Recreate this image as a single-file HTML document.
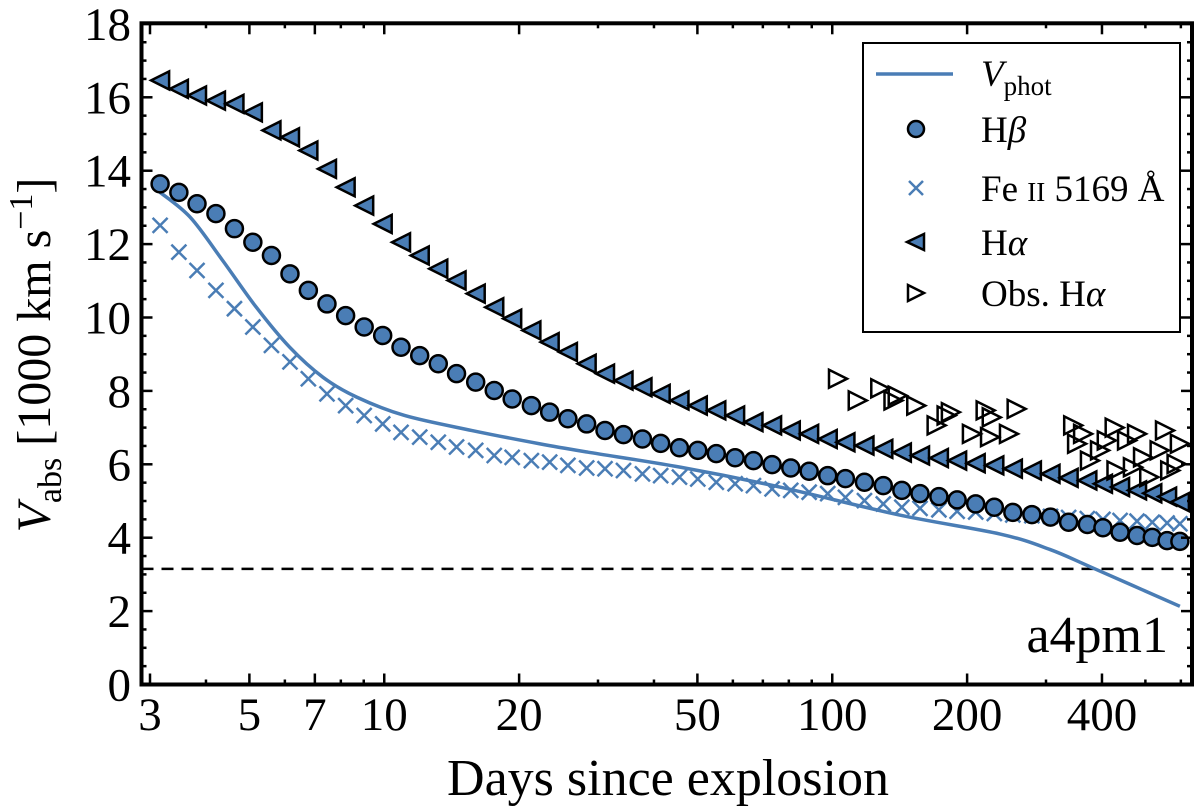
<!DOCTYPE html>
<html><head><meta charset="utf-8">
<style>
html,body{margin:0;padding:0;background:#fff;}
svg{display:block;font-family:"Liberation Serif",serif;}
</style></head>
<body>
<svg id="chart" width="1200" height="806" viewBox="0 0 1200 806" xmlns="http://www.w3.org/2000/svg">
<g id="plot"></g>
</svg>
<script>
const days = [3.16,3.48,3.82,4.21,4.63,5.09,5.60,6.16,6.77,7.45,8.20,9.02,9.92,10.9,12.0,13.2,14.5,16.0,17.6,19.3,21.3,23.4,25.7,28.3,31.1,34.2,37.7,41.4,45.6,50.1,55.1,60.7,66.7,73.4,80.8,88.8,97.7,107,118,130,143,157,173,190,209,230,253,279,307,337,371,402,439,479,518,559,597];
const hAlpha = [16.46,16.23,16.05,15.91,15.82,15.59,15.10,14.91,14.55,14.05,13.55,13.05,12.55,12.05,11.69,11.33,11.01,10.65,10.28,9.97,9.65,9.33,9.06,8.74,8.47,8.28,8.10,7.92,7.74,7.60,7.47,7.33,7.15,7.06,6.92,6.83,6.69,6.60,6.51,6.42,6.32,6.24,6.17,6.10,6.03,5.97,5.88,5.83,5.74,5.63,5.56,5.47,5.38,5.29,5.21,5.12,4.97];
const hBeta = [13.64,13.41,13.10,12.83,12.42,12.05,11.69,11.19,10.74,10.37,10.05,9.74,9.51,9.19,8.96,8.74,8.47,8.24,8.01,7.78,7.60,7.42,7.24,7.10,6.92,6.81,6.69,6.57,6.45,6.38,6.29,6.18,6.10,5.99,5.90,5.81,5.69,5.61,5.51,5.42,5.29,5.20,5.12,5.03,4.92,4.83,4.69,4.63,4.56,4.42,4.36,4.27,4.15,4.06,4.01,3.92,3.90];
const feII = [12.51,11.78,11.28,10.74,10.24,9.74,9.24,8.79,8.33,7.92,7.60,7.33,7.10,6.87,6.74,6.60,6.47,6.38,6.24,6.19,6.10,6.06,5.97,5.90,5.88,5.83,5.74,5.69,5.65,5.60,5.51,5.47,5.42,5.33,5.29,5.24,5.20,5.10,5.01,4.92,4.83,4.80,4.76,4.72,4.70,4.66,4.62,4.60,4.58,4.55,4.52,4.50,4.47,4.45,4.42,4.40,4.38];
const photDays = [3.16,3.69,4.36,5.18,6.15,7.30,8.68,11.1,15.7,22.2,28.5,45.9,76.4,141,237,306,381,597];
const photVel = [13.41,12.73,11.55,10.28,9.19,8.37,7.83,7.33,6.92,6.56,6.33,5.92,5.38,4.62,4.10,3.68,3.18,2.13];
const obsDays = [103,114,128,137,140,154,171,184,180,220,227,205,225,248,258,345,363,427,553,352,396,455,494,538,587,376,469,510,431,568,410,479,597];
const obsVel = [8.33,7.74,8.07,7.74,7.87,7.60,7.06,7.42,7.33,7.47,7.28,6.83,6.74,6.83,7.51,7.06,6.83,7.00,6.92,6.56,6.38,6.65,6.19,6.38,6.01,6.10,5.92,5.65,5.83,5.83,6.65,6.83,6.56];
const dashVel = 3.15;
const xTicks = [3,5,7,10,20,50,100,200,400];
const xMinor = [4,6,8,9,30,40,60,70,80,90,300,500,600];
const yTicks = [0,2,4,6,8,10,12,14,16,18];

const L=141.5,R=1192,T=23.3,B=684.5;
const xS = d => 150 + 448*Math.log10(d/3);
const yS = v => 684.5 - 36.7*v;
const NS="http://www.w3.org/2000/svg";
const svg=document.getElementById('chart');
const plot=document.getElementById('plot');
function el(tag,attrs,parent){const e=document.createElementNS(NS,tag);for(const k in attrs)e.setAttribute(k,attrs[k]);(parent||plot).appendChild(e);return e;}
const BLUE="#4a7db5";

const defs=el('defs',{},svg);
const cp=el('clipPath',{id:'clip'},defs);
el('rect',{x:L,y:T,width:R-L,height:B-T},cp);
const g=el('g',{'clip-path':'url(#clip)'});



const dl=el('line',{x1:L,x2:R,y1:yS(dashVel),y2:yS(dashVel),stroke:'#000','stroke-width':2.5,'stroke-dasharray':'12,8'},g);



const gFe=el('g',{},g);


days.forEach((d,i)=>{const x=xS(d),y=yS(feII[i]),s=7.5;
 const p=el('path',{d:`M${x-s},${y-s}L${x+s},${y+s}M${x-s},${y+s}L${x+s},${y-s}`,stroke:BLUE,'stroke-width':2.5,fill:'none'},gFe);
 
 });

const pts=photDays.map((d,i)=>[xS(d),yS(photVel[i])]);
let dstr=`M${pts[0][0]},${pts[0][1]}`;
for(let i=0;i<pts.length-1;i++){const p0=pts[Math.max(0,i-1)],p1=pts[i],p2=pts[i+1],p3=pts[Math.min(pts.length-1,i+2)];
 dstr+=`C${p1[0]+(p2[0]-p0[0])/6},${p1[1]+(p2[1]-p0[1])/6} ${p2[0]-(p3[0]-p1[0])/6},${p2[1]-(p3[1]-p1[1])/6} ${p2[0]},${p2[1]}`;}
const pl=el('path',{d:dstr,stroke:BLUE,'stroke-width':3.5,fill:'none'},g);



const gHb=el('g',{},g);


days.forEach((d,i)=>{const c=el('circle',{cx:xS(d),cy:yS(hBeta[i]),r:8.5,fill:BLUE,stroke:'#000','stroke-width':2.5},gHb);
 
 });

const gHa=el('g',{},g);


days.forEach((d,i)=>{const x=xS(d),y=yS(hAlpha[i]),s=9;
 const p=el('path',{d:`M${x-s},${y}L${x+s},${y-s}L${x+s},${y+s}Z`,fill:BLUE,stroke:'#000','stroke-width':2.5},gHa);
 
 });

const gOb=el('g',{},g);


obsDays.forEach((d,i)=>{const x=xS(d),y=yS(obsVel[i]),s=9;
 const p=el('path',{d:`M${x+s},${y}L${x-s},${y-s}L${x-s},${y+s}Z`,fill:'none',stroke:'#000','stroke-width':2.5},gOb);
 
 });

const fr=el('rect',{x:L,y:T,width:R-L,height:B-T,fill:'none',stroke:'#000','stroke-width':4});



for(let v=0;v<=18;v+=0.5){const y=yS(v);const major=(v%2===0);const len=major?11:5;
 el('line',{x1:L,x2:L+len,y1:y,y2:y,stroke:'#000','stroke-width':2.5});
 el('line',{x1:R,x2:R-len,y1:y,y2:y,stroke:'#000','stroke-width':2.5});}
yTicks.forEach(v=>{const t=el('text',{x:131,y:yS(v)+16,'text-anchor':'end','font-size':47,fill:'#000'});t.textContent=v;
 
 });
xTicks.forEach(d=>{const x=xS(d);
 el('line',{x1:x,x2:x,y1:B,y2:B-11,stroke:'#000','stroke-width':2.5});
 el('line',{x1:x,x2:x,y1:T,y2:T+11,stroke:'#000','stroke-width':2.5});
 const t=el('text',{x:x,y:730,'text-anchor':'middle','font-size':47,fill:'#000'});t.textContent=d;
 
 });
xMinor.forEach(d=>{const x=xS(d);if(x>R)return;
 el('line',{x1:x,x2:x,y1:B,y2:B-5,stroke:'#000','stroke-width':2.5});
 el('line',{x1:x,x2:x,y1:T,y2:T+5,stroke:'#000','stroke-width':2.5});});
</script>
<svg style="position:absolute;left:0;top:0" width="1200" height="806">
<text x="668" y="795" text-anchor="middle" font-family="Liberation Serif, serif" font-size="52">Days since explosion</text>
<text transform="translate(50,355) rotate(-90)" text-anchor="middle" font-family="Liberation Serif, serif" font-size="48"><tspan font-style="italic">V</tspan><tspan font-size="34" dy="11">abs</tspan><tspan dy="-11"> [1000 km s</tspan><tspan font-size="34" dy="-18">−1</tspan><tspan dy="18">]</tspan></text>
<text x="1168" y="652" text-anchor="end" font-family="Liberation Serif, serif" font-size="52">a4pm1</text>
<g>
<rect x="863" y="43" width="317" height="289" fill="#fff" stroke="#000" stroke-width="2"/>
<line x1="876" x2="953" y1="74" y2="74" stroke="#4a7db5" stroke-width="3.5"/>
<text x="981" y="86" font-family="Liberation Serif, serif" font-size="37"><tspan font-style="italic">V</tspan><tspan font-size="27" dy="9">phot</tspan></text>
<circle cx="916" cy="129" r="8" fill="#4a7db5" stroke="#000" stroke-width="2.5"/>
<text x="981" y="142" font-family="Liberation Serif, serif" font-size="37">H<tspan font-style="italic">β</tspan></text>
<path d="M909,181L923,195M909,195L923,181" stroke="#4a7db5" stroke-width="2.5"/>
<text x="981" y="201" font-family="Liberation Serif, serif" font-size="37">Fe <tspan font-size="27">II</tspan> 5169 Å</text>
<path d="M907,242L924,234L924,250Z" fill="#4a7db5" stroke="#000" stroke-width="2.5"/>
<text x="981" y="255" font-family="Liberation Serif, serif" font-size="37">H<tspan font-style="italic">α</tspan></text>
<path d="M924,293L908,285L908,301Z" fill="none" stroke="#000" stroke-width="2.5"/>
<text x="981" y="306" font-family="Liberation Serif, serif" font-size="37">Obs. H<tspan font-style="italic">α</tspan></text>
</g>
</svg>
</body></html>
